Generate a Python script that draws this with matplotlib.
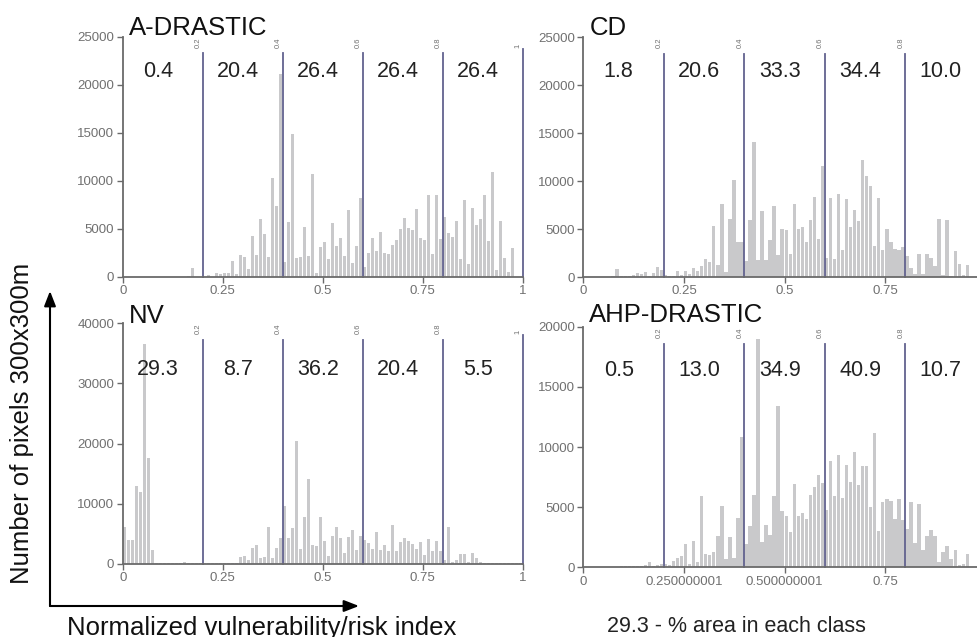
import numpy as np
import matplotlib
matplotlib.use("Agg")
import matplotlib.pyplot as plt

plt.rcParams['font.family'] = ['Liberation Sans', 'DejaVu Sans']

# histogram counts, 100 bins of 0.01 on the normalized index
a_drastic = [0] * 16 + [100, 900, 0, 0,
    0, 200, 0, 400, 300, 400, 400, 1600, 300, 2300,
    2100, 800, 4200, 2300, 6000, 4400, 2100, 10300, 7400, 21100,
    1500, 5700, 14900, 2000, 2100, 5200, 2200, 10700, 400, 3100,
    3600, 1800, 5600, 3200, 4000, 2200, 6900, 1400, 3200, 8200,
    1000, 2500, 4000, 2700, 4700, 2500, 2400, 3300, 3800, 5000,
    6100, 5100, 4900, 7100, 4000, 3800, 8500, 2400, 8500, 3900,
    6200, 4500, 4100, 5800, 1800, 8000, 1300, 7200, 5400, 6000,
    8500, 3700, 10900, 700, 5800, 2000, 500, 3000, 0, 0]

cd = [0] * 7 + [100, 800, 100, 100, 100, 200, 400, 300, 500, 100, 400, 1000, 700,
    200, 100, 100, 600, 200, 600, 300, 900, 600, 1100,
    1900, 1600, 5300, 1300, 7600, 500, 6000, 10100, 3600, 3600,
    1700, 5900, 14100, 1800, 6900, 1800, 3900, 7400, 2300, 5000,
    4900, 2400, 7600, 5000, 5200, 3600, 5900, 8300, 4000, 11600,
    2000, 8200, 1900, 8700, 2800, 8100, 5200, 7000, 5800, 12200,
    10500, 9500, 3200, 8200, 2800, 5000, 3600, 2900, 2800, 3100,
    2200, 900, 300, 2400, 300, 2400, 2000, 1100, 6100, 200,
    5900, 100, 2700, 1400, 200, 1300, 0, 0, 0, 0]

nv = [6100, 4000, 4000, 12900, 12000, 36500, 17600, 2400] + [150] * 7 + [300, 200] + [100] * 11 + [200, 1100,
    1300, 600, 2600, 3100, 1000, 1100, 6100, 1000, 2700, 4400,
    9700, 4400, 6000, 20500, 2500, 7800, 14100, 3200, 3000, 7800,
    3800, 1300, 4700, 6100, 4300, 1800, 4500, 5700, 2400, 4700,
    4000, 3500, 2500, 5400, 2300, 3200, 2100, 6400, 2200, 3700,
    4300, 3800, 3400, 2500, 3600, 1500, 4200, 2200, 3800, 2200,
    700, 6100, 400, 700, 1700, 1700, 300, 1900, 1000, 300] + [100] * 10

ahp_drastic = [0] * 9 + [100] * 6 + [200, 400, 100, 200, 300,
    300, 200, 500, 800, 900, 1900, 300, 2200, 400, 5900,
    1100, 1000, 1300, 2600, 5100, 700, 2500, 800, 4100, 10800,
    1900, 3400, 6000, 19000, 2100, 3500, 2700, 5900, 13400, 4700,
    4300, 2900, 6900, 4300, 4500, 4000, 6000, 6700, 7700, 7000,
    4800, 8800, 5900, 9300, 5800, 8500, 7100, 9600, 6800, 8400,
    8400, 5000, 11200, 3000, 5400, 5700, 5500, 4000, 5700, 3900,
    3200, 5400, 2000, 5300, 1400, 2600, 3100, 2600, 400, 1300,
    1800, 700, 1400, 200, 300, 1100, 0, 0, 0, 0]

titles = ["A-DRASTIC", "CD", "NV", "AHP-DRASTIC"]
class_pct = [["0.4", "20.4", "26.4", "26.4", "26.4"],
             ["1.8", "20.6", "33.3", "34.4", "10.0"],
             ["29.3", "8.7", "36.2", "20.4", "5.5"],
             ["0.5", "13.0", "34.9", "40.9", "10.7"]]
breaks = [0.2, 0.4, 0.6, 0.8, 1.0]
break_labels = ["0.2", "0.4", "0.6", "0.8", "1"]
y_max = [25000, 25000, 40000, 20000]
y_step = [5000, 5000, 10000, 5000]
x_tick_labels = [["0", "0.25", "0.5", "0.75", "1"],
                 ["0", "0.25", "0.5", "0.75", "1"],
                 ["0", "0.25", "0.5", "0.75", "1"],
                 ["0", "0.250000001", "0.500000001", "0.75", "1"]]
counts = [a_drastic, cd, nv, ahp_drastic]

W, H = 977, 637
fig = plt.figure(figsize=(W / 100, H / 100), dpi=100)

# axes boxes in pixels: left, bottom(y of zero), right, top
boxes = [(122.7, 276.7, 522.7, 36.7),
         (583.3, 277.0, 985.7, 37.3),
         (122.7, 564.0, 522.7, 323.3),
         (583.3, 567.3, 985.7, 326.7)]
title_y = [1.007, 1.01, 1.0, 1.02]
pct_y = [0.854, 0.856, 0.806, 0.82]

bar_col = "#c9c9cb"
line_col = "#62628f"
axis_col = "#6a6a6a"
tick_col = "#707070"

edges = np.arange(100) * 0.01
for k in range(4):
    l, b, r, t = boxes[k]
    ax = fig.add_axes([l / W, 1 - b / H, (r - l) / W, (b - t) / H])
    ax.bar(edges, counts[k], width=0.0085, align="edge", color=bar_col, linewidth=0)
    ax.set_xlim(0, 1)
    ax.set_ylim(0, y_max[k])
    for s in ["top", "right"]:
        ax.spines[s].set_visible(False)
    for s in ["left", "bottom"]:
        ax.spines[s].set_color(axis_col)
        ax.spines[s].set_linewidth(1.3)
    ax.set_xticks([0, 0.25, 0.5, 0.75, 1])
    ax.set_xticklabels(x_tick_labels[k])
    ax.set_yticks(np.arange(0, y_max[k] + 1, y_step[k]))
    ax.set_yticklabels([str(v) for v in np.arange(0, y_max[k] + 1, y_step[k])])
    ax.tick_params(colors=axis_col, labelcolor=tick_col, labelsize=9.5, length=4, width=1, pad=2)

    tr = ax.get_xaxis_transform()
    for x, lab in zip(breaks, break_labels):
        top = 0.95 if x == 1.0 else 0.93
        ax.plot([x, x], [0, top], color=line_col, lw=1.3, transform=tr, clip_on=False)
        ax.text(x - 0.011, 0.955, lab, rotation=90, fontsize=5.5, color=tick_col,
                ha="center", va="bottom", transform=tr)
    for i, p in enumerate(class_pct[k]):
        ax.text(0.1 + 0.2 * i - 0.012, pct_y[k], p, fontsize=15.5, color="#222222",
                ha="center", va="center", transform=tr)
    ax.text(0.015, title_y[k], titles[k], fontsize=18.5, color="#111111",
            ha="left", va="baseline", transform=ax.transAxes)

# axis arrows and labels
arrow = dict(arrowstyle="-|>,head_length=0.9,head_width=0.35", color="black", lw=1.5,
             shrinkA=0, shrinkB=0)
fig.add_artist(plt.Annotation("", xy=(50 / W, 1 - 291 / H), xytext=(50 / W, 1 - 606 / H),
                              xycoords="figure fraction", arrowprops=arrow))
fig.add_artist(plt.Annotation("", xy=(359 / W, 1 - 606 / H), xytext=(50 / W, 1 - 606 / H),
                              xycoords="figure fraction", arrowprops=arrow))
fig.text(22 / W, 1 - 423.4 / H, "Number of pixels 300x300m", rotation=90, fontsize=18.5,
         color="#111111", ha="center", va="center")
fig.text(66.7 / W, 1 - 635 / H, "Normalized vulnerability/risk index", fontsize=18.5,
         color="#111111", ha="left", va="baseline")
fig.text(606.7 / W, 1 - 632 / H, "29.3 - % area in each class", fontsize=15.5,
         color="#222222", ha="left", va="baseline")

fig.savefig("out.png", dpi=100)
